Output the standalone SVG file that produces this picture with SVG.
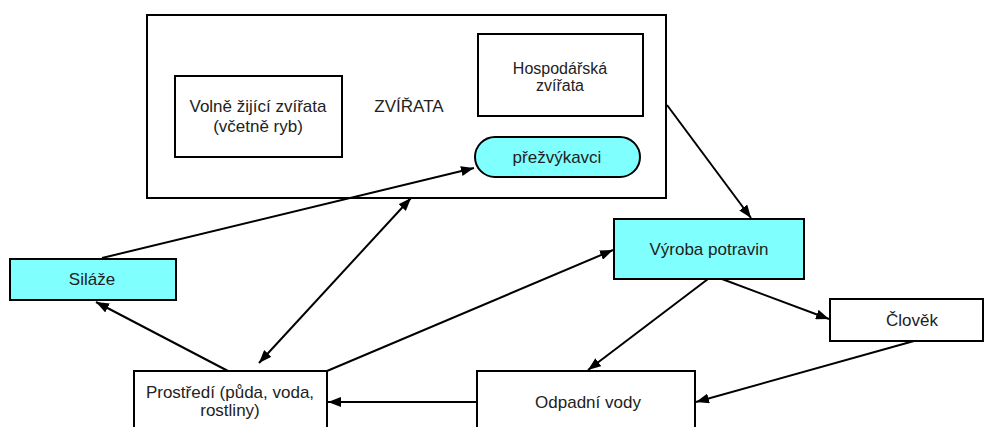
<svg xmlns="http://www.w3.org/2000/svg" width="990" height="427" viewBox="0 0 990 427">
<style>
.box{fill:#fff;stroke:#000;stroke-width:2}
.cy{fill:#80ffff;stroke:#000;stroke-width:2}
.t{font-family:"Liberation Sans",Arial,sans-serif;font-size:17px;fill:#222;text-anchor:middle}
.s{font-size:16px}
.c{stroke:#000;stroke-width:2;fill:none}
</style>
<defs>
<marker id="ah" viewBox="0 0 13 10" refX="13" refY="5" markerWidth="13" markerHeight="10" markerUnits="userSpaceOnUse" orient="auto-start-reverse">
<path d="M0,0 L13,5 L0,10 z" fill="#000"/>
</marker>
</defs>
<rect width="990" height="427" fill="#fff"/>
<g id="zvirata">
<rect class="box" x="147" y="15" width="519" height="183"/>
<text class="t" x="409" y="112">ZVÍŘATA</text>
</g>
<g id="volne">
<rect class="box" x="175" y="76" width="167" height="81"/>
<text class="t" x="258" y="112">Volně žijící zvířata</text>
<text class="t" x="258" y="132">(včetně ryb)</text>
</g>
<g id="hospodarska">
<rect class="box" x="478" y="34" width="165" height="82"/>
<text class="t s" x="560" y="74">Hospodářská</text>
<text class="t s" x="560" y="91">zvířata</text>
</g>
<g id="prezvykavci">
<rect class="cy" x="475" y="137" width="165" height="40" rx="20" ry="20"/>
<text class="t" x="557" y="163">přežvýkavci</text>
</g>
<g id="silaze">
<rect class="cy" x="10" y="259" width="166" height="41"/>
<text class="t" x="92" y="285">Siláže</text>
</g>
<g id="vyroba">
<rect class="cy" x="614" y="219" width="190" height="60"/>
<text class="t" x="709" y="255">Výroba potravin</text>
</g>
<g id="clovek">
<rect class="box" x="830" y="299" width="153" height="42"/>
<text class="t" x="912" y="326">Člověk</text>
</g>
<g id="prostredi">
<rect class="box" x="134" y="371" width="193" height="70"/>
<text class="t" x="230" y="398">Prostředí (půda, voda,</text>
<text class="t" x="230" y="416">rostliny)</text>
</g>
<g id="odpadni">
<rect class="box" x="477" y="371" width="218" height="70"/>
<text class="t" x="588" y="408">Odpadní vody</text>
</g>
<g id="connectors">
<line class="c" x1="102" y1="258" x2="474" y2="168" marker-end="url(#ah)"/>
<line class="c" x1="411" y1="198" x2="259" y2="363" marker-start="url(#ah)" marker-end="url(#ah)"/>
<line class="c" x1="228" y1="371" x2="96" y2="302" marker-end="url(#ah)"/>
<line class="c" x1="327" y1="371" x2="613" y2="250" marker-end="url(#ah)"/>
<line class="c" x1="667" y1="105" x2="751" y2="218" marker-end="url(#ah)"/>
<line class="c" x1="708" y1="279" x2="588" y2="370" marker-end="url(#ah)"/>
<line class="c" x1="722" y1="279" x2="829" y2="319" marker-end="url(#ah)"/>
<line class="c" x1="914" y1="341" x2="696" y2="402" marker-end="url(#ah)"/>
<line class="c" x1="477" y1="402" x2="328" y2="402" marker-end="url(#ah)"/>
</g>
</svg>
